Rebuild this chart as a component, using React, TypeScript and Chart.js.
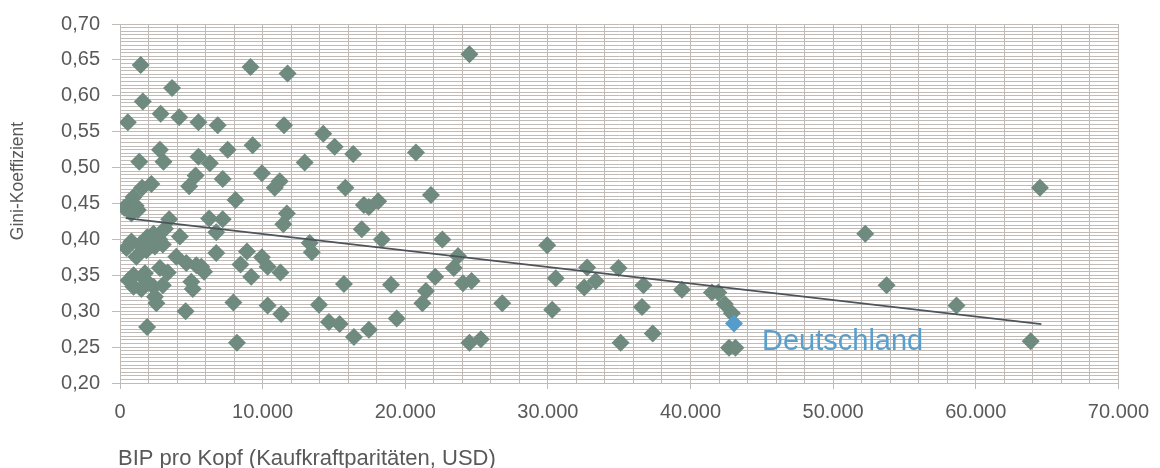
import React, { useEffect, useRef } from 'react';
import { Chart, registerables } from 'chart.js';

Chart.register(...registerables);

// GDP per capita (PPP, USD) and Gini coefficient per country
const gdpPerCapita = [
  1450, 9150, 11750, 24500, 1600, 3650, 2850, 4150, 550, 5500,
  6850, 11500, 14250, 15050, 16350, 20750, 9300, 7550, 2800, 1350,
  3050, 5500, 6300, 12950, 5300, 4850, 7200, 9950, 11200, 10850,
  15800, 21800, 1550, 2200, 8100, 17100, 17450, 18100, 11700, 11450, 64500,
  300, 700, 950, 1250, 800, 1100,
  3450, 6250, 7200, 6750, 4200, 16950, 18350, 22600, 13300, 13450, 29950, 52250,
  3150, 2350, 2750, 800, 1400, 1900, 2450, 1850, 1150, 3000, 450,
  3950, 4650, 5350, 5700, 5900, 6750, 950, 600, 1750, 2800, 3350, 8900,
  8450, 9950, 10350, 9200, 11250, 23700, 23400, 22100, 30550, 32750, 34950,
  950, 1500, 2350, 3000, 2450, 2550, 5000, 5100, 4600, 7950, 10350, 11300,
  13950, 15700, 19000, 21450, 21200, 24050, 24650, 26800, 30300, 33350, 32550,
  36700, 36600, 39400, 41500, 41950, 42400, 42900, 53750, 58650, 1800,
  1900, 8200, 14650, 15400, 16400, 17450, 19400, 24500, 25300, 35100, 37350,
  42700, 43150, 63850,
];

const giniCoefficient = [
  0.643, 0.640, 0.631, 0.658, 0.592, 0.611, 0.575, 0.570, 0.563, 0.563,
  0.559, 0.559, 0.547, 0.529, 0.519, 0.521, 0.531, 0.525, 0.525, 0.508,
  0.508, 0.515, 0.506, 0.507, 0.489, 0.474, 0.484, 0.492, 0.481, 0.472,
  0.472, 0.462, 0.472, 0.477, 0.455, 0.448, 0.445, 0.453, 0.436, 0.421, 0.472,
  0.444, 0.451, 0.459, 0.441, 0.436, 0.447,
  0.428, 0.429, 0.428, 0.410, 0.404, 0.414, 0.400, 0.400, 0.395, 0.382, 0.392, 0.408,
  0.415, 0.408, 0.400, 0.397, 0.393, 0.403, 0.390, 0.385, 0.376, 0.393, 0.388,
  0.376, 0.367, 0.364, 0.362, 0.355, 0.381, 0.350, 0.343, 0.353, 0.360, 0.354, 0.383,
  0.365, 0.375, 0.362, 0.348, 0.354, 0.377, 0.360, 0.348, 0.346, 0.361, 0.360,
  0.334, 0.331, 0.334, 0.336, 0.320, 0.311, 0.341, 0.331, 0.300, 0.312, 0.308, 0.296,
  0.309, 0.338, 0.337, 0.328, 0.311, 0.339, 0.342, 0.311, 0.302, 0.342, 0.333,
  0.336, 0.306, 0.330, 0.326, 0.326, 0.310, 0.297, 0.336, 0.308, 0.343,
  0.278, 0.256, 0.285, 0.282, 0.264, 0.274, 0.290, 0.256, 0.261, 0.256, 0.269,
  0.249, 0.249, 0.258,
];

// Highlighted country
const germanyLabel = 'Deutschland';
const germanyGdp = [43050];
const germanyGini = [0.283];

// Linear trend line end points
const trendGdp = [400, 64600];
const trendGini = [0.4295, 0.282];

// Axis ranges and titles
const xRange = [0, 70000];
const xMinorStep = 2000;
const xMajorStep = 10000;
const yRange = [0.2, 0.7];
const yMinorStep = 0.005;
const yMajorStep = 0.05;
const xTitle = 'BIP pro Kopf (Kaufkraftparitäten, USD)';
const yTitle = 'Gini-Koeffizient';

const FONT = '"Liberation Sans", Arial, sans-serif';
const TEXT = '#595959';
const GRID = '#c0bbb7';
const POINT = '#6f8a7e';
const HIGHLIGHT = '#559ccb';
const TRANSPARENT = 'rgba(0,0,0,0)';

const thousands = (v: number) =>
  String(Math.round(v)).replace(/\B(?=(\d{3})+(?!\d))/g, '.');

const isXMajor = (v: number) => Math.round(v) % xMajorStep === 0;
const isYMajor = (v: number) =>
  Math.round(v * 1000) % Math.round(yMajorStep * 1000) === 0;

const textPlugin = {
  id: 'chartTexts',
  afterDraw(chart: any) {
    const { ctx } = chart;
    ctx.save();
    ctx.fillStyle = TEXT;

    // vertical axis title
    ctx.font = `17.5px ${FONT}`;
    ctx.textAlign = 'center';
    ctx.textBaseline = 'middle';
    ctx.translate(18, 181);
    ctx.rotate(-Math.PI / 2);
    ctx.fillText(yTitle, 0, 0);
    ctx.setTransform(1, 0, 0, 1, 0, 0);

    // horizontal axis title
    ctx.font = `22px ${FONT}`;
    ctx.textAlign = 'left';
    ctx.textBaseline = 'alphabetic';
    ctx.fillText(xTitle, 118, 465);

    // label next to the highlighted point
    const px = chart.scales.x.getPixelForValue(germanyGdp[0]);
    const py = chart.scales.y.getPixelForValue(germanyGini[0]);
    ctx.fillStyle = '#5a9fcb';
    ctx.font = `29px ${FONT}`;
    ctx.fillText(germanyLabel, px + 28, py + 27);
    ctx.restore();
  },
};

export default function App() {
  const canvasRef = useRef<HTMLCanvasElement>(null);

  useEffect(() => {
    const canvas = canvasRef.current;
    if (!canvas) return;

    const countries = gdpPerCapita.map((x, i) => ({ x, y: giniCoefficient[i] }));
    const germany = germanyGdp.map((x, i) => ({ x, y: germanyGini[i] }));
    const trend = trendGdp.map((x, i) => ({ x, y: trendGini[i] }));

    const chart = new Chart(canvas, {
      type: 'scatter',
      data: {
        datasets: [
          {
            label: 'Trend',
            data: trend,
            showLine: true,
            borderColor: '#4d545b',
            borderWidth: 1.8,
            pointRadius: 0,
            fill: false,
            order: 0,
          } as any,
          {
            label: germanyLabel,
            data: germany,
            pointStyle: 'rectRot',
            pointRadius: 9,
            backgroundColor: HIGHLIGHT,
            borderWidth: 0,
            order: 1,
          },
          {
            label: 'Länder',
            data: countries,
            pointStyle: 'rectRot',
            pointRadius: 9,
            backgroundColor: POINT,
            borderWidth: 0,
            order: 2,
          },
        ],
      },
      options: {
        responsive: false,
        animation: false,
        events: [],
        devicePixelRatio: 1,
        layout: { padding: { left: 0, right: 33, top: 24, bottom: 0 } },
        plugins: {
          legend: { display: false },
          tooltip: { enabled: false },
        },
        scales: {
          x: {
            type: 'linear',
            position: 'bottom',
            min: xRange[0],
            max: xRange[1],
            afterFit: (s: any) => {
              s.height = 85;
            },
            border: { color: GRID, width: 1 },
            grid: {
              color: GRID,
              lineWidth: 1,
              drawTicks: true,
              tickLength: 6,
              tickColor: (c: any) =>
                c.tick && isXMajor(c.tick.value) ? GRID : TRANSPARENT,
            },
            ticks: {
              stepSize: xMinorStep,
              maxTicksLimit: 36,
              autoSkip: false,
              maxRotation: 0,
              minRotation: 0,
              padding: 11,
              color: TEXT,
              font: { family: FONT, size: 20 },
              callback: (v: any) => (isXMajor(Number(v)) ? thousands(Number(v)) : ''),
            },
          },
          y: {
            type: 'linear',
            min: yRange[0],
            max: yRange[1],
            afterFit: (s: any) => {
              s.width = 120;
            },
            border: { color: GRID, width: 1 },
            grid: {
              color: GRID,
              lineWidth: 1,
              drawTicks: true,
              tickLength: 8,
              tickColor: (c: any) =>
                c.tick && isYMajor(c.tick.value) ? GRID : TRANSPARENT,
            },
            ticks: {
              stepSize: yMinorStep,
              maxTicksLimit: 101,
              autoSkip: false,
              padding: 12,
              color: TEXT,
              font: { family: FONT, size: 20 },
              callback: (v: any) =>
                isYMajor(Number(v)) ? Number(v).toFixed(2).replace('.', ',') : '',
            },
          },
        },
      },
      plugins: [textPlugin],
    });

    return () => chart.destroy();
  }, []);

  return (
    <div style={{ position: 'fixed', left: 0, top: 0, width: 1160, height: 468, background: '#fff' }}>
      <canvas ref={canvasRef} width={1160} height={468} style={{ display: 'block' }} />
    </div>
  );
}
